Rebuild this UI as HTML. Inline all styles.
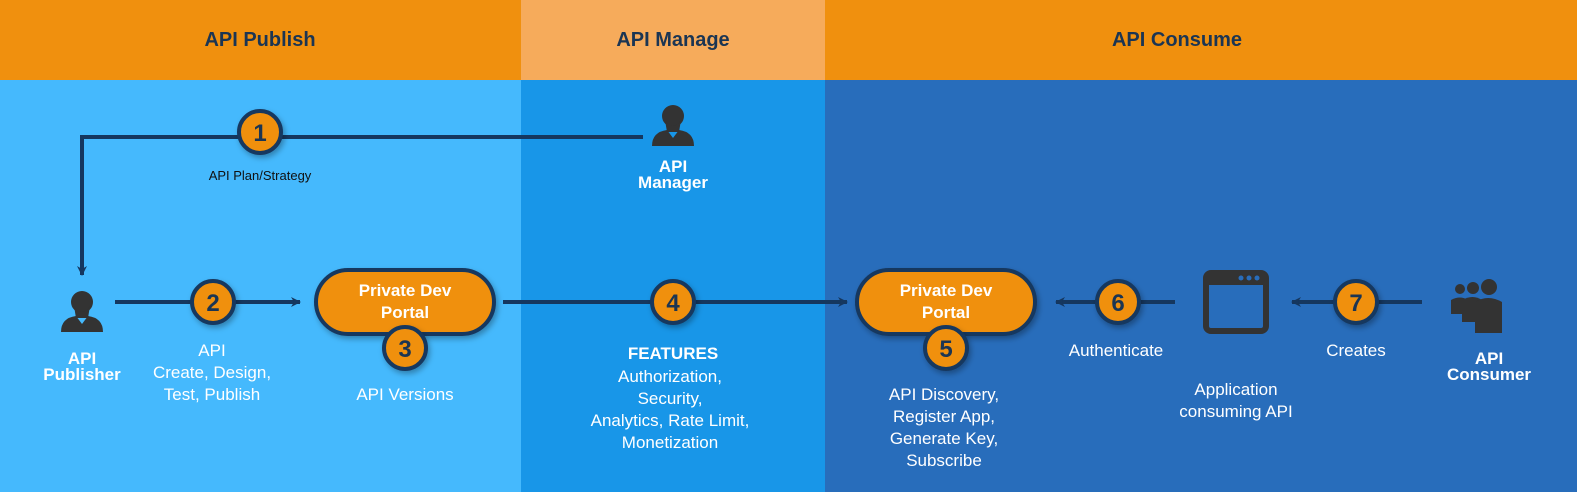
<!DOCTYPE html>
<html><head><meta charset="utf-8"><style>
body{margin:0;width:1577px;height:497px;overflow:hidden;background:#fff}
svg text{font-family:"Liberation Sans",sans-serif}
</style></head><body>
<svg width="1577" height="497" viewBox="0 0 1577 497">
<defs>
<marker id="ah" markerWidth="10" markerHeight="10" refX="9" refY="5" orient="auto" markerUnits="userSpaceOnUse"><path d="M0,0 L10,5 L0,10 L3,5Z" fill="#15375F"/></marker>
<filter id="sh" x="-30%" y="-30%" width="160%" height="160%"><feDropShadow dx="2" dy="3" stdDeviation="3" flood-color="#000" flood-opacity="0.3"/></filter>
<g id="person"><circle cx="0" cy="-14" r="11" fill="#333"/><path d="M-8,-10 Q0,2 8,-10 L6,2 L-6,2Z" fill="#333"/><path d="M-21,16 Q-21,2 -6,0 L0,8 L6,0 Q21,2 21,16Z" fill="#333"/></g>
</defs>
<rect x="0" y="0" width="521" height="80" fill="#F0900E"/>
<rect x="521" y="0" width="304" height="80" fill="#F6AB5B"/>
<rect x="825" y="0" width="752" height="80" fill="#F0900E"/>
<rect x="0" y="80" width="521" height="412" fill="#45B9FD"/>
<rect x="521" y="80" width="304" height="412" fill="#1896E8"/>
<rect x="825" y="80" width="752" height="412" fill="#286DBB"/>
<g font-weight="bold" font-size="20" fill="#1B3553" text-anchor="middle">
<text x="260" y="46">API Publish</text><text x="673" y="46">API Manage</text><text x="1177" y="46">API Consume</text></g>
<g stroke="#15375F" stroke-width="4" fill="none">
<path d="M643,137 L82,137 L82,275" marker-end="url(#ah)"/>
<path d="M115,302 L300,302" marker-end="url(#ah)"/>
<path d="M503,302 L847,302" marker-end="url(#ah)"/>
<path d="M1175,302 L1056,302" marker-end="url(#ah)"/>
<path d="M1422,302 L1292,302" marker-end="url(#ah)"/>
</g>
<g filter="url(#sh)">
<rect x="316" y="270" width="178" height="64" rx="32" fill="#F0900E" stroke="#15375F" stroke-width="4"/>
<rect x="857" y="270" width="178" height="64" rx="32" fill="#F0900E" stroke="#15375F" stroke-width="4"/>
</g>
<g font-weight="bold" font-size="17" fill="#fff" text-anchor="middle">
<text x="405" y="296">Private Dev</text><text x="405" y="318">Portal</text>
<text x="946" y="296">Private Dev</text><text x="946" y="318">Portal</text></g>
<g filter="url(#sh)" fill="#F0900E" stroke="#15375F" stroke-width="4">
<circle cx="260" cy="132" r="21"/><circle cx="213" cy="302" r="21"/><circle cx="405" cy="348" r="21"/>
<circle cx="673" cy="302" r="21"/><circle cx="946" cy="348" r="21"/><circle cx="1118" cy="302" r="21"/><circle cx="1356" cy="302" r="21"/></g>
<g font-weight="bold" font-size="24" fill="#1B3553" text-anchor="middle">
<text x="260" y="141">1</text><text x="213" y="311">2</text><text x="405" y="357">3</text><text x="673" y="311">4</text><text x="946" y="357">5</text><text x="1118" y="311">6</text><text x="1356" y="311">7</text></g>
<use href="#person" x="82" y="316"/>
<use href="#person" x="673" y="130"/>
<rect x="1206" y="273" width="60" height="58" rx="5" fill="none" stroke="#333" stroke-width="6"/>
<rect x="1206" y="273" width="60" height="12" fill="#333"/>
<g fill="#286DBB"><circle cx="1241" cy="278" r="2.5"/><circle cx="1249" cy="278" r="2.5"/><circle cx="1257" cy="278" r="2.5"/></g>
<g fill="#333"><circle cx="1460" cy="289" r="5"/><circle cx="1473" cy="288" r="6"/><circle cx="1489" cy="287" r="8"/>
<path d="M1451,314 L1451,300 Q1460,295 1468,300 L1468,314Z"/><path d="M1462,322 L1462,300 Q1473,294 1482,300 L1482,322Z"/><path d="M1475,333 L1475,302 Q1488,294 1502,302 L1502,333Z"/></g>
<text x="260" y="180" font-size="13" fill="#111" text-anchor="middle">API Plan/Strategy</text>
<g font-weight="bold" font-size="17" fill="#fff" text-anchor="middle">
<text x="82" y="364">API</text><text x="82" y="380">Publisher</text>
<text x="673" y="172">API</text><text x="673" y="188">Manager</text>
<text x="1489" y="364">API</text><text x="1489" y="380">Consumer</text>
<text x="673" y="359">FEATURES</text></g>
<g font-size="17" fill="#fff" text-anchor="middle">
<text x="212" y="356">API</text><text x="212" y="378">Create, Design,</text><text x="212" y="400">Test, Publish</text>
<text x="405" y="400">API Versions</text>
<text x="670" y="382">Authorization,</text><text x="670" y="404">Security,</text><text x="670" y="426">Analytics, Rate Limit,</text><text x="670" y="448">Monetization</text>
<text x="944" y="400">API Discovery,</text><text x="944" y="422">Register App,</text><text x="944" y="444">Generate Key,</text><text x="944" y="466">Subscribe</text>
<text x="1116" y="356">Authenticate</text>
<text x="1356" y="356">Creates</text>
<text x="1236" y="395">Application</text><text x="1236" y="417">consuming API</text></g>
</svg>
</body></html>
